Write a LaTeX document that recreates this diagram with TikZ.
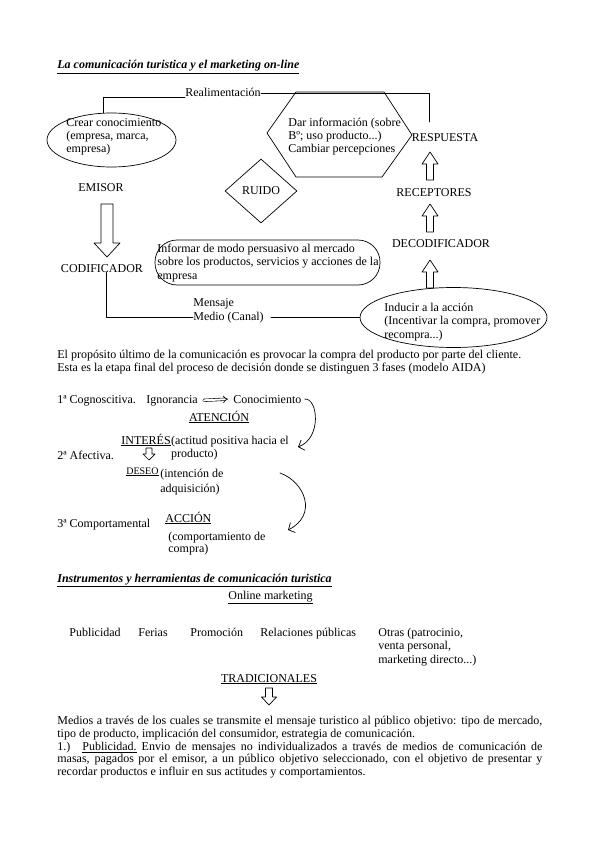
\documentclass[tikz,border=0pt]{standalone}
\usepackage{fontspec}
\setmainfont{Liberation Serif}
\usetikzlibrary{shapes.geometric,arrows.meta}

\begin{document}
\begin{tikzpicture}[x=1pt,y=-1pt,line cap=round,line join=round,line width=0.7pt,
    every node/.style={inner sep=0pt,font=\fontsize{12}{13.5}\selectfont},
    txt/.style={anchor=base west,align=left},
    titulo/.style={txt,font=\fontsize{12}{13.5}\selectfont\bfseries\itshape},
    flecha/.style={-{Straight Barb[length=5pt,width=11pt]}}]
  \useasboundingbox (0,0) rectangle (599,848);

  % Esquema de la comunicacion (multi-line nodes sit on their last line)
  \node[titulo] (tit1) at (57,69) {\underline{La comunicación turistica y el marketing on-line}};
  \node[draw,ellipse,minimum width=129pt,minimum height=54pt] (crear) at (111.5,140) {};
  \node[txt] (crear txt) at (66,153) {Crear conocimiento\\(empresa, marca,\\empresa)};
  \node[txt] (realim) at (185,97) {Realimentación};
  \coordinate (resp top) at (429,122);
  \draw ([xshift=-8.5pt]crear.north) |- (realim.base west);
  \draw (realim.east) -| (resp top);
  \draw (267,133) -- (296,92) -- (384,92) -- (412,135) -- (382,177) -- (296,177) -- cycle;
  \node[txt] (dar) at (288,153) {Dar información (sobre\\Bº; uso producto...)\\Cambiar percepciones};
  \node[draw,diamond,minimum width=72pt,minimum height=64pt] (ruido) at (261,191) {RUIDO};

  \node[anchor=base] (emisor) at (101,191) {EMISOR};
  \node[anchor=base] (codif) at (102,272) {CODIFICADOR};
  \draw (101,204) -- (101,243) -- (94,243) -- (107,257) -- (120,243) -- (113,243) -- (113,204) -- cycle;

  \node[draw,rounded corners=22pt,minimum width=225pt,minimum height=45pt] (informar) at (267.5,262.5) {};
  \node[txt] (informar txt) at (157,279) {Informar de modo persuasivo al mercado\\sobre los productos, servicios y acciones de la\\empresa};

  \node[anchor=base] (resp) at (445,141) {RESPUESTA};
  \node[anchor=base] (recep) at (434,196) {RECEPTORES};
  \node[anchor=base] (decod) at (441,247) {DECODIFICADOR};
  \foreach \yb in {180,232,288}
    \draw (426.5,\yb) -- ++(0,-16) -- ++(-4.5,0) -- ++(8,-12) -- ++(8,12) -- ++(-4.5,0) -- ++(0,16) -- cycle;

  \node[draw,ellipse,minimum width=187pt,minimum height=60pt] (inducir) at (453.5,317.5) {};
  \node[txt] (inducir txt) at (384,338) {Inducir a la acción\\(Incentivar la compra, promover\\recompra...)};
  \node[txt] (mensaje) at (193,306.5) {Mensaje};
  \node[txt] (medio) at (193,320.5) {Medio (Canal)};
  \draw ([xshift=4pt]codif.south) |- (medio.west);
  \draw ([xshift=7pt]medio.east) -- (medio.east -| inducir.west);

  % Modelo AIDA
  \node[txt,font=\fontsize{12}{13}\selectfont] (proposito) at (57,371) {El propósito último de la comunicación es provocar la compra del producto por parte del cliente.\\Esta es la etapa final del proceso de decisión donde se distinguen 3 fases (modelo AIDA)};
  \node[txt] (cog) at (57,403) {1ª Cognoscitiva.};
  \node[txt] (ign) at (146,403) {Ignorancia};
  \node[txt] (con) at (233,403) {Conocimiento};
  \draw[double,double distance=2pt,line width=0.6pt,-{Implies[scale=1.4]}] ([xshift=6pt]ign.east) -- ([xshift=-5pt]con.west);
  \node[anchor=base] (atencion) at (219,421) {\underline{ATENCIÓN}};
  \node[txt] (interes) at (121,444) {\underline{INTERÉS}};
  \node[txt] (interes txt) at (170.7,457.5) {(actitud positiva hacia el\\producto)};
  \node[txt] (afectiva) at (57,459) {2ª Afectiva.};
  \draw (146,448) -- (146,454) -- (143,454) -- (149,460) -- (155,454) -- (152,454) -- (152,448) -- cycle;
  \node[txt,font=\fontsize{10}{11}\selectfont] (deseo) at (126,474) {\underline{DESEO}};
  \node[txt,font=\fontsize{12}{15}\selectfont] (deseo txt) at (160,492) {(intención de\\adquisición)};
  \node[txt] (comport) at (57,527) {3ª Comportamental};
  \node[txt] (accion) at (165,522) {\underline{ACCIÓN}};
  \node[txt,font=\fontsize{12}{12}\selectfont] (accion txt) at (168,552.7) {(comportamiento de\\compra)};
  \coordinate (c1) at (298,447);
  \coordinate (c2a) at (280,473);
  \coordinate (c2b) at (288,530);
  \draw[flecha] ([xshift=3pt]con.east) .. controls (318,398) and (322,438) .. (c1);
  \draw[flecha] (c2a) .. controls (305,482) and (318,515) .. (c2b);

  % Instrumentos de comunicacion
  \node[titulo] (tit2) at (57,582) {\underline{Instrumentos y herramientas de comunicación turistica}};
  \node[anchor=base] (online) at (270.5,599) {\underline{Online marketing}};
  \node[txt] (publi) at (69,636) {Publicidad};
  \node[txt] (ferias) at (138,636) {Ferias};
  \node[txt] (promo) at (190,636) {Promoción};
  \node[txt] (rrpp) at (260,636) {Relaciones públicas};
  \node[txt] (otras) at (378,663) {Otras (patrocinio,\\venta personal,\\marketing directo...)};
  \node[anchor=base] (trad) at (269,682) {\underline{TRADICIONALES}};
  \draw (265.5,688) -- (265.5,697) -- (261.5,697) -- (269,705) -- (276.5,697) -- (272.5,697) -- (272.5,688) -- cycle;
  \node[txt,font=\fontsize{12}{12.75}\selectfont] (medios) at (57,775.7) {%
    \makebox[485pt][s]{Medios a través de los cuales se transmite el mensaje turistico al público objetivo: tipo de mercado,}\\
    tipo de producto, implicación del consumidor, estrategia de comunicación.\\
    \makebox[485pt][s]{1.)\hspace{12pt}\underline{Publicidad.} Envio de mensajes no individualizados a través de medios de comunicación de}\\
    \makebox[485pt][s]{masas, pagados por el emisor, a un público objetivo seleccionado, con el objetivo de presentar y}\\
    recordar productos e influir en sus actitudes y comportamientos.};
\end{tikzpicture}
\end{document}
